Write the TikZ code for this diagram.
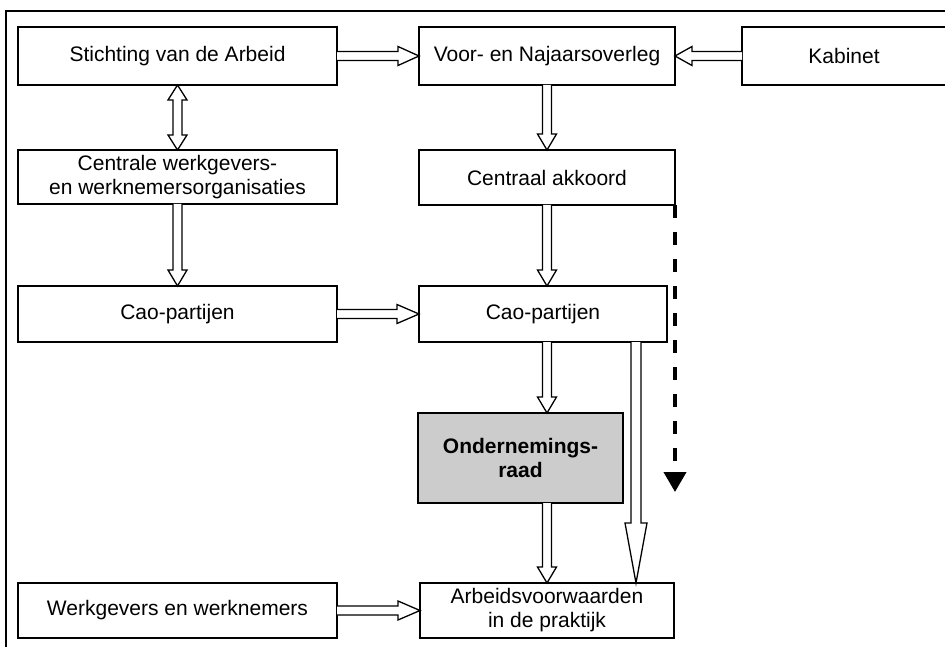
\documentclass[tikz,border=0pt]{standalone}
\usepackage{fontspec}
\setmainfont{Liberation Sans}
\usetikzlibrary{arrows.meta, calc}

\def\shaftw{4.5pt}\def\headw{9.5pt}
% hollow block arrow from #2 to #3, #1 = head length
\newcommand{\blockarrow}[3][17pt]{%
  \path (#2) coordinate (ba-tail) (#3) coordinate (ba-tip) ($(ba-tip)!#1!(ba-tail)$) coordinate (ba-base);
  \draw[hollow] ($(ba-tail)!\shaftw!90:(ba-tip)$) -- ($(ba-base)!\shaftw!90:(ba-tip)$) -- ($(ba-base)!\headw!90:(ba-tip)$) -- (ba-tip)
    -- ($(ba-base)!\headw!-90:(ba-tip)$) -- ($(ba-base)!\shaftw!-90:(ba-tip)$) -- ($(ba-tail)!\shaftw!-90:(ba-tip)$);
}
% same, with a head at both ends
\newcommand{\blockarrowboth}[3][15pt]{%
  \path (#2) coordinate (bb-a) (#3) coordinate (bb-b) ($(bb-a)!#1!(bb-b)$) coordinate (bb-ha) ($(bb-b)!#1!(bb-a)$) coordinate (bb-hb);
  \draw[hollow] (bb-a) -- ($(bb-ha)!\headw!90:(bb-b)$) -- ($(bb-ha)!\shaftw!90:(bb-b)$) -- ($(bb-hb)!\shaftw!-90:(bb-a)$) -- ($(bb-hb)!\headw!-90:(bb-a)$) -- (bb-b)
    -- ($(bb-hb)!\headw!90:(bb-a)$) -- ($(bb-hb)!\shaftw!90:(bb-a)$) -- ($(bb-ha)!\shaftw!-90:(bb-b)$) -- ($(bb-ha)!\headw!-90:(bb-b)$) -- cycle;
}

\begin{document}
\begin{tikzpicture}[x=1pt, y=-1pt, box/.style={draw, line width=1.3pt, fill=white, inner sep=0pt, outer sep=0pt, align=center, font=\fontsize{21}{24}\selectfont}, hollow/.style={draw, fill=white, line width=1.3pt, line join=miter}]
\useasboundingbox (0,0) rectangle (945,647);
\clip (0,0) rectangle (945,647);
\draw[line width=1.3pt] (6,11) rectangle (952,655);
% top row
\node[box, minimum width=319pt, minimum height=58pt] (stichting) at (177.5,56) {Stichting van de Arbeid};
\node[box, minimum width=256pt, minimum height=58pt] (overleg) at (547,56) {Voor- en Najaarsoverleg};
\node[box, minimum width=204pt, minimum height=58pt] (kabinet) at (844,56) {Kabinet};
% second row
\node[box, minimum width=319pt, minimum height=54pt] (centrale) at (177.5,177) {Centrale werkgevers-\\en werknemersorganisaties};
\node[box, minimum width=256pt, minimum height=55pt] (akkoord) at (547,177.5) {Centraal akkoord};
% third row
\node[box, minimum width=319pt, minimum height=56pt] (caoleft) at (177.5,314) {Cao-partijen};
\node[box, minimum width=248pt, minimum height=56pt] (caoright) at (543,314) {Cao-partijen};
\node[box, fill=gray!40, minimum width=205pt, minimum height=90pt, font=\fontsize{21}{24}\selectfont\bfseries] (or) at (520.5,458) {Ondernemings-\\raad};
% bottom row
\node[box, minimum width=319pt, minimum height=55pt] (werk) at (177.5,610.5) {Werkgevers en werknemers};
\node[box, minimum width=254pt, minimum height=55pt] (praktijk) at (547,610.5) {Arbeidsvoorwaarden\\in de praktijk};

\blockarrow[21pt]{stichting.east}{overleg.west}
\blockarrow{kabinet.west}{overleg.east}
\blockarrowboth{stichting.south}{centrale.north}
\blockarrow[16pt]{centrale.south}{caoleft.north}
\blockarrow[16pt]{overleg.south}{akkoord.north}
\blockarrow[22pt]{caoleft.east}{caoright.west}
\blockarrow[16pt]{akkoord.south}{akkoord.south |- caoright.north}
\blockarrow[16pt]{caoright.south -| praktijk.north}{or.north -| praktijk.north}
\blockarrow[16pt]{or.south -| praktijk.north}{praktijk.north}
\blockarrow[22pt]{werk.east}{praktijk.west}
\coordinate (direct) at ($(caoright.south east)+(-31,0)$);
{\def\shaftw{5pt}\def\headw{11pt}\blockarrow[60pt]{direct}{direct |- praktijk.north}}
\coordinate (dashend) at ($(akkoord.south east)+(0,287)$);
\draw[line width=4pt, dash pattern=on 13pt off 14pt, -{Triangle[length=20pt, width=22pt]}] (akkoord.south east) -- (dashend);
\end{tikzpicture}
\end{document}
